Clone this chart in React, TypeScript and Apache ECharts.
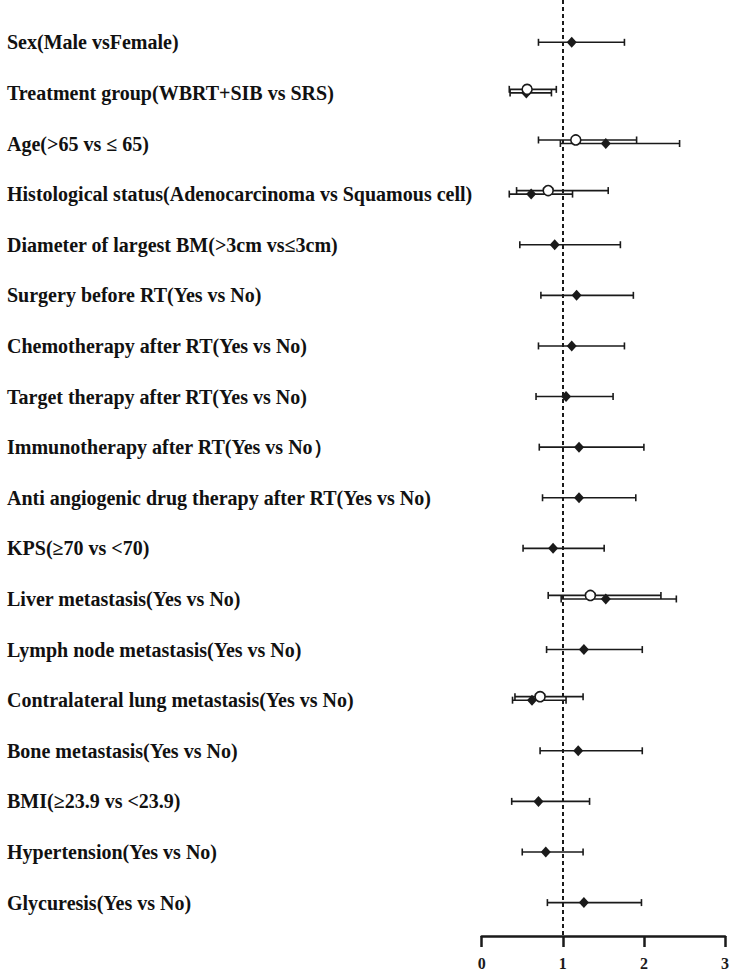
import React, { useEffect, useRef } from "react";
import * as echarts from "echarts";

const categories = [
  "Sex(Male vsFemale)",
  "Treatment group(WBRT+SIB vs SRS)",
  "Age(\u003e65 vs \u2264 65)",
  "Histological status(Adenocarcinoma vs Squamous cell)",
  "Diameter of largest BM(\u003e3cm vs\u22643cm)",
  "Surgery before RT(Yes vs No)",
  "Chemotherapy after RT(Yes vs No)",
  "Target therapy after RT(Yes vs No)",
  "Immunotherapy after RT(Yes vs No\uFF09",
  "Anti angiogenic drug therapy after RT(Yes vs No)",
  "KPS(\u226570 vs \u003c70)",
  "Liver metastasis(Yes vs No)",
  "Lymph node metastasis(Yes vs No)",
  "Contralateral lung metastasis(Yes vs No)",
  "Bone metastasis(Yes vs No)",
  "BMI(\u226523.9 vs \u003c23.9)",
  "Hypertension(Yes vs No)",
  "Glycuresis(Yes vs No)",
];

// Filled diamond series (all rows)
const diamondEst = [1.11, 0.55, 1.53, 0.61, 0.9, 1.17, 1.11, 1.04, 1.2, 1.2, 0.88, 1.53, 1.26, 0.62, 1.19, 0.7, 0.79, 1.26];
const diamondLow = [0.7, 0.35, 0.97, 0.34, 0.47, 0.73, 0.7, 0.67, 0.71, 0.75, 0.51, 0.98, 0.8, 0.38, 0.72, 0.37, 0.5, 0.81];
const diamondHigh = [1.76, 0.86, 2.44, 1.12, 1.71, 1.87, 1.76, 1.62, 2.0, 1.9, 1.51, 2.4, 1.98, 1.04, 1.98, 1.33, 1.25, 1.97];

// Open circle series (some rows)
const circleRows = [1, 2, 3, 11, 13];
const circleEst = [0.56, 1.16, 0.82, 1.34, 0.72];
const circleLow = [0.34, 0.7, 0.43, 0.82, 0.41];
const circleHigh = [0.92, 1.91, 1.56, 2.21, 1.25];

const xTicks = [0, 1, 2, 3];
const refValue = 1;

const CIRCLE_DODGE = -0.07;
const INK = "#1a1a1a";

function errorBarRender(params: any, api: any) {
  const lo = api.value(0);
  const hi = api.value(1);
  const y = api.value(2);
  const p1 = api.coord([lo, y]);
  const p2 = api.coord([hi, y]);
  const h = 3.5;
  const style = { stroke: INK, lineWidth: 1.6 };
  return {
    type: "group",
    children: [
      { type: "line", shape: { x1: p1[0], y1: p1[1], x2: p2[0], y2: p2[1] }, style },
      { type: "line", shape: { x1: p1[0], y1: p1[1] - h, x2: p1[0], y2: p1[1] + h }, style },
      { type: "line", shape: { x1: p2[0], y1: p2[1] - h, x2: p2[0], y2: p2[1] + h }, style },
    ],
  };
}

export default function App() {
  const ref = useRef<HTMLDivElement>(null);
  useEffect(() => {
    if (!ref.current) return;
    const chart = echarts.init(ref.current, null, { renderer: "svg" });
    const rowIdx = categories.map((_, i) => i);
    const diamondBars = rowIdx.map((i) => [diamondLow[i], diamondHigh[i], i]);
    const diamondPts = rowIdx.map((i) => [diamondEst[i], i]);
    const circleBars = circleRows.map((r, k) => [circleLow[k], circleHigh[k], r + CIRCLE_DODGE]);
    const circlePts = circleRows.map((r, k) => [circleEst[k], r + CIRCLE_DODGE]);

    chart.setOption({
      animation: false,
      backgroundColor: "#ffffff",
      grid: { left: 481.7, right: 13, top: 0, bottom: 40, containLabel: false },
      xAxis: {
        type: "value",
        position: "bottom",
        min: xTicks[0],
        max: xTicks[xTicks.length - 1],
        interval: 1,
        axisLine: { show: true, onZero: false, lineStyle: { color: INK, width: 2.5 } },
        axisTick: { show: true, length: 11, lineStyle: { color: INK, width: 2.5 } },
        axisLabel: {
          color: INK,
          fontFamily: "Liberation Serif",
          fontWeight: "bold",
          fontSize: 16,
          margin: 19,
        },
        splitLine: { show: false },
      },
      yAxis: {
        type: "value",
        inverse: true,
        min: -0.836,
        max: 17.66,
        axisLine: { show: false },
        axisTick: { show: false },
        splitLine: { show: false },
        axisLabel: {
          customValues: rowIdx,
          formatter: (v: number) => categories[Math.round(v)] ?? "",
          align: "left",
          margin: 474.7,
          color: "#111111",
          fontFamily: "Liberation Serif",
          fontWeight: "bold",
          fontSize: 20,
        },
      },
      series: [
        {
          type: "custom",
          renderItem: errorBarRender,
          data: diamondBars,
          encode: { x: [0, 1], y: 2 },
          z: 2,
          markLine: {
            silent: true,
            symbol: "none",
            label: { show: false },
            lineStyle: { color: INK, width: 2, type: [4, 3] },
            data: [{ xAxis: refValue }],
          },
        },
        {
          type: "custom",
          renderItem: errorBarRender,
          data: circleBars,
          encode: { x: [0, 1], y: 2 },
          z: 2,
        },
        {
          type: "scatter",
          data: diamondPts,
          symbol: "diamond",
          symbolSize: [10, 11],
          itemStyle: { color: INK, opacity: 1 },
          z: 4,
        },
        {
          type: "scatter",
          data: circlePts,
          symbol: "circle",
          symbolSize: 10,
          itemStyle: { color: "#ffffff", borderColor: INK, borderWidth: 1.6, opacity: 1 },
          z: 5,
        },
      ],
    });
    return () => chart.dispose();
  }, []);
  return (
    <div
      ref={ref}
      style={{ position: "fixed", top: 0, left: 0, width: 738, height: 976 }}
    />
  );
}
